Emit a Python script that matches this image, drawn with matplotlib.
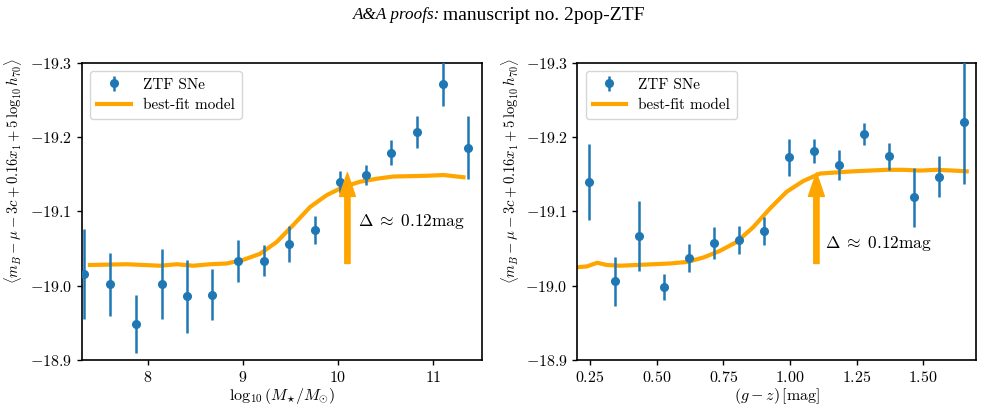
import matplotlib
matplotlib.use("Agg")
import matplotlib.pyplot as plt
from matplotlib.ticker import FormatStrFormatter

plt.rcParams['font.family'] = 'serif'
plt.rcParams['font.serif'] = ['cmr10']
plt.rcParams['mathtext.fontset'] = 'cm'
plt.rcParams['axes.formatter.use_mathtext'] = True

# binned ZTF SNe vs host stellar mass
mass_x = [7.334, 7.608, 7.877, 8.147, 8.413, 8.680, 8.949, 9.219,
          9.485, 9.755, 10.024, 10.291, 10.560, 10.830, 11.100, 11.366]
mass_y = [-19.016, -19.002, -18.949, -19.002, -18.986, -18.988, -19.033, -19.034,
          -19.056, -19.075, -19.140, -19.149, -19.179, -19.207, -19.272, -19.186]
mass_err = [0.061, 0.042, 0.039, 0.047, 0.049, 0.034, 0.028, 0.021,
            0.024, 0.019, 0.015, 0.013, 0.017, 0.022, 0.030, 0.043]

# best-fit model curve (mass)
mass_model_x = [7.394, 7.779, 8.130, 8.305, 8.480, 8.655, 8.830, 9.005, 9.180, 9.356,
                9.531, 9.706, 9.881, 10.056, 10.231, 10.406, 10.581, 10.932, 11.107, 11.317]
mass_model_y = [-19.028, -19.029, -19.027, -19.029, -19.027, -19.029, -19.030, -19.035,
                -19.043, -19.059, -19.082, -19.106, -19.122, -19.133, -19.140, -19.144,
                -19.147, -19.148, -19.149, -19.146]

# binned ZTF SNe vs local (g-z) colour
col_x = [0.2475, 0.3425, 0.435, 0.529, 0.6225, 0.716, 0.810, 0.904,
         0.9975, 1.090, 1.184, 1.2775, 1.371, 1.465, 1.559, 1.651]
col_y = [-19.140, -19.006, -19.067, -18.998, -19.037, -19.057, -19.062, -19.074,
         -19.173, -19.181, -19.162, -19.204, -19.174, -19.119, -19.147, -19.221]
col_err = [0.051, 0.033, 0.047, 0.0175, 0.019, 0.0215, 0.019, 0.019,
           0.025, 0.016, 0.020, 0.015, 0.018, 0.040, 0.028, 0.084]

# best-fit model curve (colour)
col_model_x = [0.2025, 0.2375, 0.2775, 0.3125, 0.3625, 0.425, 0.4875, 0.55, 0.6125,
               0.675, 0.7375, 0.80, 0.8625, 0.925, 0.9875, 1.05, 1.1125, 1.175,
               1.2375, 1.30, 1.3625, 1.425, 1.4875, 1.55, 1.6125, 1.6625]
col_model_y = [-19.025, -19.026, -19.031, -19.028, -19.027, -19.028, -19.029, -19.030,
               -19.032, -19.038, -19.047, -19.059, -19.079, -19.104, -19.1265, -19.141,
               -19.151, -19.1525, -19.154, -19.155, -19.156, -19.156, -19.155, -19.156,
               -19.155, -19.154]

step_label = r'$\Delta\;\approx\;0.12$mag'
ylab = r'$\langle m_B - \mu - 3c + 0.16x_1 + 5\,\log_{10} h_{70}\rangle$'

fig = plt.figure(figsize=(9.84, 4.13), dpi=100)
ax1 = fig.add_axes([0.083, 0.128, 0.4065, 0.72])
ax2 = fig.add_axes([0.5867, 0.128, 0.4052, 0.72])

def panel(ax, x, y, e, mx, my, arrow_x, text_x, text_y, xlim, xlabel, xticks, ylab_x):
    eb = ax.errorbar(x, y, yerr=e, fmt='o', color='C0', ms=5.5, elinewidth=1.8,
                     label='ZTF SNe', zorder=3)
    ln, = ax.plot(mx, my, color='orange', lw=3, label='best-fit model', zorder=2)
    ax.annotate('', xy=(arrow_x, -19.152), xytext=(arrow_x, -19.030),
                arrowprops=dict(color='orange', width=3.8, headwidth=11.5,
                                headlength=17, shrink=0), zorder=4)
    ax.text(text_x, text_y, step_label, fontsize=12.5, va='center', ha='left')
    ax.set_xlim(*xlim)
    ax.set_ylim(-18.9, -19.3)
    ax.set_yticks([-18.9, -19.0, -19.1, -19.2, -19.3])
    ax.set_xticks(xticks)
    ax.tick_params(labelsize=11.5, width=1, length=3.5)
    ax.set_xlabel(xlabel, fontsize=11.5, labelpad=1)
    ax.set_ylabel(ylab, fontsize=10.5)
    ax.yaxis.set_label_coords(ylab_x, 0.634)
    for s in ax.spines.values():
        s.set_linewidth(1.2)
    ax.legend([eb, ln], ['ZTF SNe', 'best-fit model'], loc='upper left',
              fontsize=11, handlelength=2.2, borderpad=0.45, labelspacing=0.45,
              borderaxespad=0.55)
    ax.yaxis.set_major_formatter(FormatStrFormatter(r'$%.1f$'))

panel(ax1, mass_x, mass_y, mass_err, mass_model_x, mass_model_y,
      10.098, 10.208, -19.086, (7.307, 11.508),
      r'$\log_{10}(M_{\star}/M_{\odot})$', [8, 9, 10, 11], -0.145)
panel(ax2, col_x, col_y, col_err, col_model_x, col_model_y,
      1.099, 1.131, -19.057, (0.2025, 1.6975),
      r'$(g-z)\,[\mathrm{mag}]$', [0.25, 0.5, 0.75, 1.0, 1.25, 1.5], -0.14)
ax2.xaxis.set_major_formatter(FormatStrFormatter(r'$%.2f$'))

fig.text(0.4475, 0.963, 'A&A proofs:', family='Liberation Serif', style='italic',
         fontsize=12.3, ha='right', va='center')
fig.text(0.4500, 0.963, 'manuscript no. 2pop-ZTF', family='Liberation Serif',
         fontsize=14, ha='left', va='center')

fig.savefig('out.png', dpi=100)
